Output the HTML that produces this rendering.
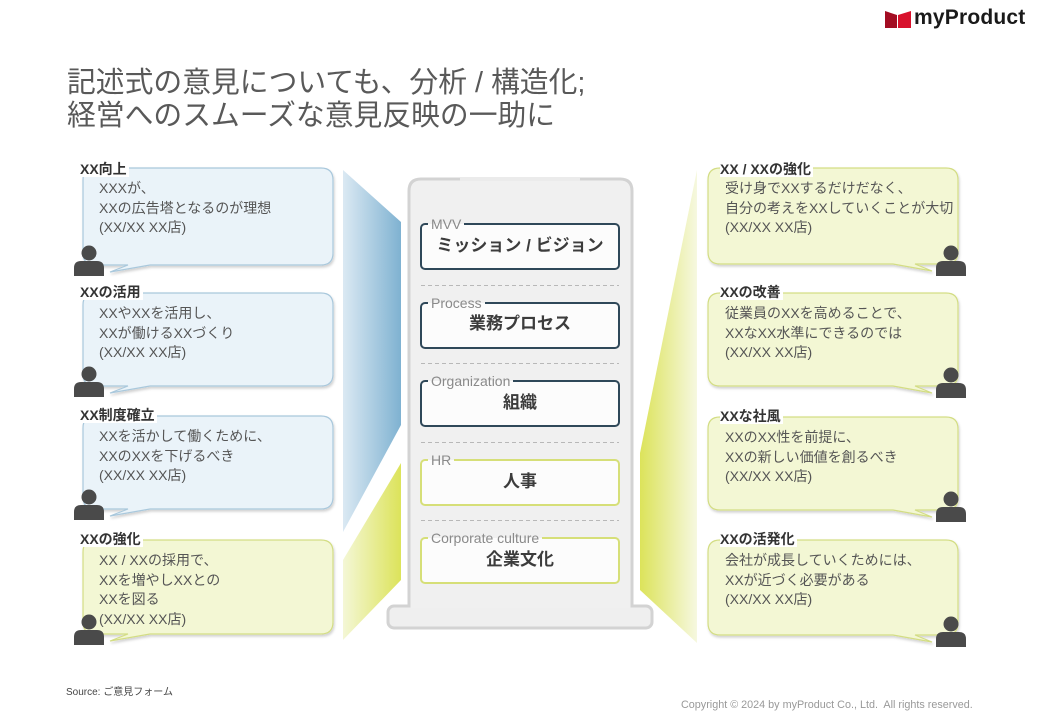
<!DOCTYPE html>
<html><head><meta charset="utf-8">
<style>
*{margin:0;padding:0;box-sizing:border-box}
body{width:1040px;height:720px;background:#fff;position:relative;overflow:hidden;font-family:"Liberation Sans","Noto Sans CJK JP",sans-serif;color:#555}
.abs{position:absolute;white-space:nowrap}
.title{left:67px;font-size:28.8px;color:#595959;line-height:34px}
.lbl{font-size:14px;font-weight:bold;color:#333;background:#fff;padding-right:2px;line-height:16px}
.txt{font-size:14px;color:#555;line-height:19.5px}
.blab{font-size:14px;color:#8a8a8a;line-height:16px;padding:0 3px;background:linear-gradient(#f0f0f0 50%,#fcfcfc 50%)}
.bmain{font-size:17px;font-weight:bold;color:#3c3c3c;width:198px;text-align:center;left:421px;line-height:20px}
</style></head><body>

<svg class="abs" style="left:0;top:0" width="1040" height="720" viewBox="0 0 1040 720">
<defs>
<linearGradient id="gb" x1="0" x2="1" y1="0" y2="0"><stop offset="0" stop-color="#dbe9f3"/><stop offset="1" stop-color="#7fb2d1"/></linearGradient>
<linearGradient id="gy" x1="0" x2="1" y1="0" y2="0"><stop offset="0" stop-color="#f4f7d6"/><stop offset="1" stop-color="#dce35a"/></linearGradient>
<linearGradient id="gyr" x1="0" x2="1" y1="0" y2="0"><stop offset="0" stop-color="#dce35a"/><stop offset="1" stop-color="#f6f8e0"/></linearGradient>
<filter id="sh" x="-5%" y="-5%" width="110%" height="120%"><feDropShadow dx="1" dy="2" stdDeviation="1.2" flood-color="#000" flood-opacity="0.18"/></filter>
</defs>
<polygon points="343,170 401,222 401,425 343,532" fill="url(#gb)"/>
<polygon points="401,463 401,580 343,640 343,560" fill="url(#gy)"/>
<polygon points="697,170 697,643 640,590 640,453" fill="url(#gyr)"/>

<path d="M409,612 V191 Q409,179 421,179 H620 Q632,179 632,191 V612 Z" fill="#f0f0f0" stroke="#d3d3d3" stroke-width="3"/>
<rect x="460" y="177" width="120" height="4" fill="#ebebeb"/>
<rect x="388" y="606" width="264" height="22" rx="6" fill="#efefef" stroke="#d3d3d3" stroke-width="3"/>
<rect x="410.5" y="604" width="220" height="4" fill="#f0f0f0"/>

<g stroke="#b8b8b8" stroke-width="1" stroke-dasharray="4,3">
<line x1="421" y1="285.5" x2="619" y2="285.5"/>
<line x1="421" y1="363.5" x2="619" y2="363.5"/>
<line x1="421" y1="442.5" x2="619" y2="442.5"/>
<line x1="421" y1="520.5" x2="619" y2="520.5"/>
</g>
<g fill="#fcfcfc" stroke-width="2">
<rect x="421" y="224" width="198" height="45" rx="4" stroke="#2f4859"/>
<rect x="421" y="303" width="198" height="45" rx="4" stroke="#2f4859"/>
<rect x="421" y="381" width="198" height="45" rx="4" stroke="#2f4859"/>
<rect x="421" y="460" width="198" height="45" rx="4" stroke="#d6df78"/>
<rect x="421" y="538" width="198" height="45" rx="4" stroke="#d6df78"/>
</g>

<g filter="url(#sh)" stroke-width="1.2">
<path d="M95,168 H321 Q333,168 333,180 V253 Q333,265 321,265 H150 L110,272 L128,265 H95 Q83,265 83,253 V180 Q83,168 95,168 Z" fill="#eaf3f9" stroke="#a9c8dc"/>
<path d="M95,293 H321 Q333,293 333,305 V374 Q333,386 321,386 H150 L110,393 L128,386 H95 Q83,386 83,374 V305 Q83,293 95,293 Z" fill="#eaf3f9" stroke="#a9c8dc"/>
<path d="M95,416 H321 Q333,416 333,428 V497 Q333,509 321,509 H150 L110,516 L128,509 H95 Q83,509 83,497 V428 Q83,416 95,416 Z" fill="#eaf3f9" stroke="#a9c8dc"/>
<path d="M95,540 H321 Q333,540 333,552 V622 Q333,634 321,634 H150 L110,641 L128,634 H95 Q83,634 83,622 V552 Q83,540 95,540 Z" fill="#f3f7d4" stroke="#d3dd84"/>
</g>
<g filter="url(#sh)" stroke-width="1.2">
<path d="M720,168 H946 Q958,168 958,180 V252 Q958,264 946,264 H915 L932,271 L893,264 H720 Q708,264 708,252 V180 Q708,168 720,168 Z" fill="#f3f7d4" stroke="#d3dd84"/>
<path d="M720,293 H946 Q958,293 958,305 V374 Q958,386 946,386 H915 L932,393 L893,386 H720 Q708,386 708,374 V305 Q708,293 720,293 Z" fill="#f3f7d4" stroke="#d3dd84"/>
<path d="M720,417 H946 Q958,417 958,429 V498 Q958,510 946,510 H915 L932,517 L893,510 H720 Q708,510 708,498 V429 Q708,417 720,417 Z" fill="#f3f7d4" stroke="#d3dd84"/>
<path d="M720,540 H946 Q958,540 958,552 V623 Q958,635 946,635 H915 L932,642 L893,635 H720 Q708,635 708,623 V552 Q708,540 720,540 Z" fill="#f3f7d4" stroke="#d3dd84"/>
</g>

<g fill="#4a4a4a">
<g id="p1"><circle cx="89" cy="253" r="7.5"/><path d="M74,276 V268 Q74,261 81,261 H97 Q104,261 104,268 V276 Z"/></g>
<use href="#p1" y="121"/>
<use href="#p1" y="244"/>
<use href="#p1" y="369"/>
<use href="#p1" x="862" y="0"/>
<use href="#p1" x="862" y="122"/>
<use href="#p1" x="862" y="246"/>
<use href="#p1" x="862" y="371"/>
</g>

<polygon points="885,11 897,15 897,28 885,28" fill="#a30d22"/>
<polygon points="898,15 911,11 911,28 898,28" fill="#d8112c"/>
</svg>

<div class="abs" style="left:914px;top:6px;font-size:21px;font-weight:bold;color:#1a1a1a;letter-spacing:0.2px">myProduct</div>

<div class="abs title" style="top:66px">記述式の意見についても、分析 / 構造化;</div>
<div class="abs title" style="top:99px">経営へのスムーズな意見反映の一助に</div>

<div class="abs lbl" style="left:80px;top:161px">XX向上</div>
<div class="abs txt" style="left:99px;top:179px">XXXが、<br>XXの広告塔となるのが理想<br>(XX/XX XX店)</div>
<div class="abs lbl" style="left:80px;top:284px">XXの活用</div>
<div class="abs txt" style="left:99px;top:304px">XXやXXを活用し、<br>XXが働けるXXづくり<br>(XX/XX XX店)</div>
<div class="abs lbl" style="left:80px;top:407px">XX制度確立</div>
<div class="abs txt" style="left:99px;top:427px">XXを活かして働くために、<br>XXのXXを下げるべき<br>(XX/XX XX店)</div>
<div class="abs lbl" style="left:80px;top:531px">XXの強化</div>
<div class="abs txt" style="left:99px;top:551px">XX / XXの採用で、<br>XXを増やしXXとの<br>XXを図る<br>(XX/XX XX店)</div>

<div class="abs lbl" style="left:720px;top:161px">XX / XXの強化</div>
<div class="abs txt" style="left:725px;top:179px">受け身でXXするだけだなく、<br>自分の考えをXXしていくことが大切<br>(XX/XX XX店)</div>
<div class="abs lbl" style="left:720px;top:284px">XXの改善</div>
<div class="abs txt" style="left:725px;top:304px">従業員のXXを高めることで、<br>XXなXX水準にできるのでは<br>(XX/XX XX店)</div>
<div class="abs lbl" style="left:720px;top:408px">XXな社風</div>
<div class="abs txt" style="left:725px;top:428px">XXのXX性を前提に、<br>XXの新しい価値を創るべき<br>(XX/XX XX店)</div>
<div class="abs lbl" style="left:720px;top:531px">XXの活発化</div>
<div class="abs txt" style="left:725px;top:551px">会社が成長していくためには、<br>XXが近づく必要がある<br>(XX/XX XX店)</div>

<div class="abs blab" style="left:428px;top:216px">MVV</div>
<div class="abs bmain" style="top:236px">ミッション / ビジョン</div>
<div class="abs blab" style="left:428px;top:295px">Process</div>
<div class="abs bmain" style="top:314px">業務プロセス</div>
<div class="abs blab" style="left:428px;top:373px">Organization</div>
<div class="abs bmain" style="top:393px">組織</div>
<div class="abs blab" style="left:428px;top:452px">HR</div>
<div class="abs bmain" style="top:472px">人事</div>
<div class="abs blab" style="left:428px;top:530px">Corporate culture</div>
<div class="abs bmain" style="top:550px">企業文化</div>

<div class="abs" style="left:66px;top:683px;font-size:10px;color:#444">Source: ご意見フォーム</div>
<div class="abs" style="left:681px;top:699px;font-size:10.8px;color:#999">Copyright © 2024 by myProduct Co., Ltd.&nbsp; All rights reserved.</div>
</body></html>
